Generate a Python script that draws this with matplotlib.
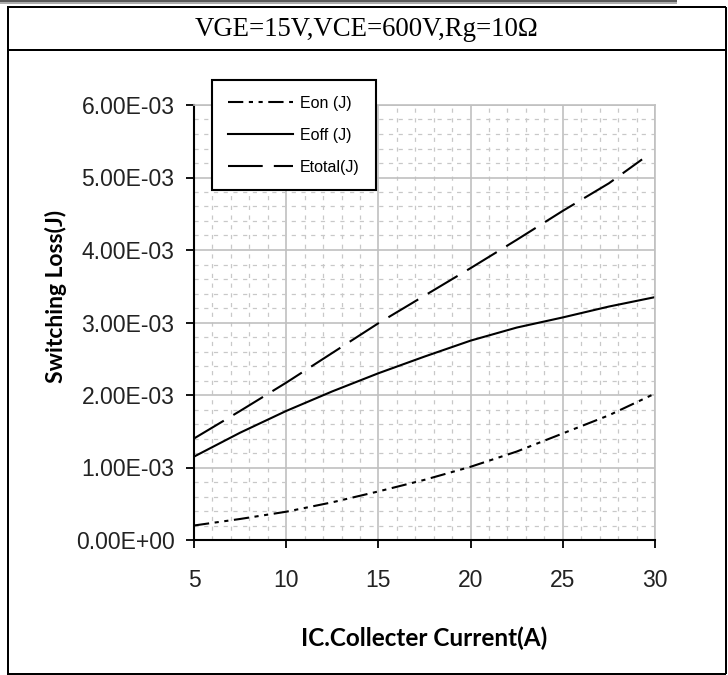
import numpy as np
import matplotlib.pyplot as plt
from matplotlib.lines import Line2D
from matplotlib.ticker import MultipleLocator

plt.rcParams['lines.scale_dashes'] = False

# data
ic = [5, 7.5, 10, 12.5, 15, 17.5, 20, 22.5, 25, 27.5, 30]
eon = [0.20e-3, 0.29e-3, 0.39e-3, 0.52e-3, 0.67e-3, 0.83e-3, 1.01e-3, 1.22e-3, 1.47e-3, 1.72e-3, 2.02e-3]
eoff = [1.15e-3, 1.48e-3, 1.78e-3, 2.05e-3, 2.30e-3, 2.53e-3, 2.75e-3, 2.93e-3, 3.07e-3, 3.22e-3, 3.35e-3]
ic_total = [5, 7.5, 10, 12.5, 15, 17.5, 20, 22.5, 25, 27.5, 29.3]
etotal = [1.40e-3, 1.78e-3, 2.17e-3, 2.58e-3, 2.99e-3, 3.37e-3, 3.75e-3, 4.14e-3, 4.54e-3, 4.92e-3, 5.25e-3]

header = "VGE=15V,VCE=600V,Rg=10\u03a9"
xticks = [5, 10, 15, 20, 25, 30]
yticks = [0, 1e-3, 2e-3, 3e-3, 4e-3, 5e-3, 6e-3]
ytick_labels = ["0.00E+00", "1.00E-03", "2.00E-03", "3.00E-03", "4.00E-03", "5.00E-03", "6.00E-03"]

W, H = 728, 675
fig = plt.figure(figsize=(W / 100, H / 100), dpi=100)

# table frame around the chart
def px_line(x0, y0, x1, y1, color="black", lw=2.0):
    fig.add_artist(Line2D([x0 / W, x1 / W], [1 - y0 / H, 1 - y1 / H],
                          transform=fig.transFigure, color=color, lw=lw * 0.72,
                          solid_capstyle="butt"))

px_line(0, 0.8, 677, 0.8, color="#333333", lw=1.6)
px_line(0, 2.6, 677, 2.6, color="#999999", lw=1.6)
px_line(7, 7, 726, 7)
px_line(7, 50, 726, 50)
px_line(7.5, 7, 7.5, 674)
px_line(726, 7, 726, 674)
px_line(7, 673.5, 726, 673.5)

fig.text(367 / W, 1 - 30 / H, header, family="Liberation Serif", fontsize=19.3,
         ha="center", va="center")

ax = fig.add_axes([194 / W, 1 - 540 / H, (655 - 194) / W, (540 - 105) / H])

ax.plot(ic, eon, color="black", lw=1.5, dashes=(11, 4, 3, 4, 3, 4), label="Eon (J)")
ax.plot(ic, eoff, color="black", lw=1.5, label="Eoff (J)")
ax.plot(ic_total, etotal, color="black", lw=1.5, dashes=(25, 8), label="Etotal(J)")

ax.set_xlim(5, 30)
ax.set_ylim(0, 6e-3)
ax.set_xticks(xticks)
ax.set_yticks(yticks)
ax.set_yticklabels(ytick_labels)
ax.xaxis.set_minor_locator(MultipleLocator(1))
ax.yaxis.set_minor_locator(MultipleLocator(0.2e-3))

ax.grid(which="major", color="#c0c0c0", lw=1.2, ls="-")
ax.grid(which="minor", color="#c8c8c8", lw=0.9, dashes=(3, 4))
ax.set_axisbelow(True)

for s in ["top", "right"]:
    ax.spines[s].set_color("#c0c0c0")
    ax.spines[s].set_linewidth(1.2)
for s in ["left", "bottom"]:
    ax.spines[s].set_color("black")
    ax.spines[s].set_linewidth(1.5)

ax.tick_params(which="major", direction="out", length=6, width=1.3, colors="black",
               labelsize=16.5)
ax.tick_params(axis="y", pad=8)
ax.tick_params(axis="x", pad=15)
ax.tick_params(which="minor", length=0)
for lab in ax.get_xticklabels() + ax.get_yticklabels():
    lab.set_family("Liberation Sans")
    lab.set_color("#222222")

ax.set_ylabel("Switching Loss(J)", family="Lato", weight="bold", fontsize=16.5)
ax.yaxis.set_label_coords(-0.275, 0.56)
ax.set_xlabel("IC.Collecter Current(A)", family="Lato", weight="bold", fontsize=17.5, labelpad=25)

leg = ax.legend(loc="upper left", bbox_to_anchor=(212 / W, 1 - 80 / H),
                bbox_transform=fig.transFigure, borderaxespad=0, frameon=True, fancybox=False,
                edgecolor="black", framealpha=1, handlelength=4.1, handletextpad=0.4,
                labelspacing=1.05, borderpad=1.0, prop={"family": "Liberation Sans", "size": 11.5})
leg.get_frame().set_linewidth(1.5)

fig.savefig("out.png", dpi=100)
